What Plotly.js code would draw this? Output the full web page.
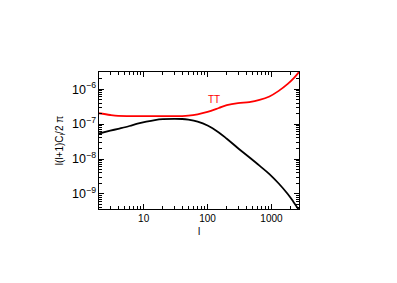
<!DOCTYPE html>
<html><head><meta charset="utf-8">
<script src="https://cdn.plot.ly/plotly-3.0.1.min.js"></script>
<style>html,body{margin:0;padding:0;background:#fff}#c{width:397px;height:283px}</style>
</head><body><div id="c"></div>
<script>
const ell = [2, 3, 4, 6, 8, 11, 15, 20, 30, 40, 50, 70, 100, 150, 200, 300, 450, 650, 930, 1300, 1800, 2200, 2700];
const ttLog = [-6.69, -6.74, -6.765, -6.77, -6.77, -6.77, -6.77, -6.77, -6.77, -6.77, -6.76, -6.72, -6.65, -6.54, -6.46, -6.40, -6.37, -6.31, -6.21, -6.05, -5.85, -5.70, -5.51];
const blackLog = [-7.27, -7.19, -7.135, -7.055, -6.99, -6.93, -6.885, -6.86, -6.85, -6.855, -6.875, -6.93, -7.04, -7.24, -7.42, -7.69, -7.95, -8.19, -8.43, -8.70, -9.00, -9.22, -9.46];
const ttVals = ttLog.map(v => Math.pow(10, v));
const blackVals = blackLog.map(v => Math.pow(10, v));
const labelText = 'TT';
const labelL = 126, labelY = Math.pow(10, -6.31);

const font = {family: 'Liberation Sans, Arial, sans-serif', size: 10, color: '#000'};
const axisBase = {
  type: 'log', showline: true, linecolor: '#000', linewidth: 1, mirror: 'allticks',
  ticks: 'inside', ticklen: 5, tickcolor: '#000', showgrid: false, zeroline: false,
  minor: {ticks: 'inside', ticklen: 3, tickcolor: '#000', showgrid: false},
  tickfont: font
};
const layout = {
  width: 397, height: 283, margin: {l: 99, r: 98, t: 72, b: 74},
  paper_bgcolor: '#fff', plot_bgcolor: '#fff', showlegend: false,
  xaxis: Object.assign({}, axisBase, {
    range: [Math.log10(2), Math.log10(2700)], dtick: 1, exponentformat: 'none',
    title: {text: 'l', font: font, standoff: 4}
  }),
  yaxis: Object.assign({}, axisBase, {
    range: [-9.43, -5.51], dtick: 1, exponentformat: 'power',
    title: {text: 'l(l+1)C<sub>l</sub>/2 π', font: font, standoff: 6}
  }),
  annotations: [{x: Math.log10(labelL), y: Math.log10(labelY), text: labelText, showarrow: false,
    font: {family: 'Liberation Sans, Arial, sans-serif', size: 10, color: '#ff0000'}}]
};
const data = [
  {x: ell, y: blackVals, mode: 'lines', line: {color: '#000', width: 1.8, shape: 'spline'}},
  {x: ell, y: ttVals, mode: 'lines', line: {color: '#ff0000', width: 1.8, shape: 'spline'}}
];
Plotly.newPlot('c', data, layout, {displayModeBar: false, staticPlot: true});
</script></body></html>
